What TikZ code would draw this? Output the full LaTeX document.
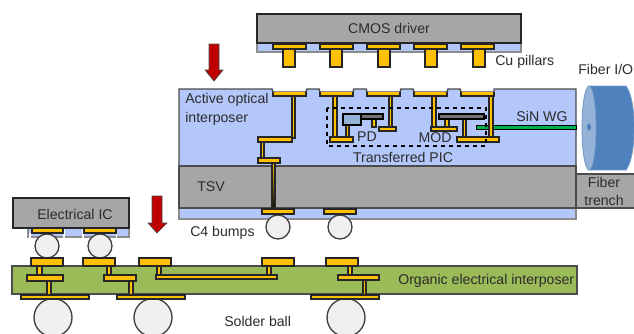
\documentclass[tikz,border=0pt]{standalone}
\usepackage{fontspec}
\setmainfont{Liberation Sans}
\definecolor{padgold}{HTML}{FFC000}
\definecolor{layerblue}{HTML}{B4C7FA}
\definecolor{layergray}{HTML}{A6A6A6}
\definecolor{boardgreen}{HTML}{9BBB59}
\definecolor{arrowred}{HTML}{C00000}
\definecolor{fiberbody}{HTML}{4F81BD}
\definecolor{fiberend}{HTML}{95B3D7}
\definecolor{labelgray}{HTML}{2B2B2B}
\definecolor{wggreen}{HTML}{00B050}
\begin{document}
\begin{tikzpicture}[x=0.75pt, y=-0.75pt,
    pad/.style={draw=black!85, line width=1pt, fill=padgold},
    layer/.style={draw=black!70, line width=1.1pt},
    ball/.style={draw=black!75, line width=1pt, fill=black!6},
    redarrow/.style={draw=black!70, line width=0.5pt, fill=arrowred},
    txt/.style={text=labelgray, font=\fontsize{10.6}{12.6}\selectfont, inner sep=0pt, align=center}]
    \clip (0, 0) rectangle (634, 333);

    % CMOS driver
    \draw[layer, draw=black!45, fill=layerblue] (257, 43) rectangle (521, 52);
    \draw[layer, draw=black!85, fill=layergray] (257, 14) rectangle (521, 43);
    \node[txt] (cmos) at (389, 28) {CMOS driver};
    \foreach \px/\qx in {273/283, 320/330, 367/378, 414/425, 461/473} {
        \draw[pad] (\px, 44) rectangle ++(33, 5);
        \draw[pad] (\qx, 49) rectangle ++(12, 18);
    }
    \node[txt, anchor=west] (pillars) at (495, 62) {Cu pillars};

    % 有源光转接板
    \draw[layer, fill=layerblue] (179, 166) -- (179, 89) -- (272, 89) -- (273, 92) -- (306, 92) -- (307, 89)
        -- (319, 89) -- (320, 92) -- (353, 92) -- (354, 89)
        -- (366, 89) -- (367, 92) -- (400, 92) -- (401, 89)
        -- (413, 89) -- (414, 92) -- (447, 92) -- (448, 89)
        -- (460, 89) -- (461, 92) -- (494, 92) -- (494, 89) -- (576, 89) -- (576, 166) -- cycle;
    \draw[layer, draw=black!45, fill=layerblue] (179, 208) rectangle (576, 219);
    \draw[layer, fill=layergray] (179, 166) rectangle (576, 208);
    \draw[layer, fill=layergray] (576, 174) rectangle (640, 208);
    \foreach \px in {273, 320, 367, 414, 461} {
        \fill[padgold] (\px, 92) rectangle ++(33, 4);
        \draw[line width=1pt, draw=black!85] (\px, 92) -- ++(0, 4) -- ++(33, 0) -- ++(0, -4);
    }

    % 波导
    \draw[draw=black, line width=0.5pt, fill=wggreen] (476, 125) rectangle (576, 129);

    % 左侧互连和TSV
    \draw[pad] (292, 96) rectangle (295, 138);
    \draw[pad] (258, 137) rectangle (292, 142);
    \draw[pad] (261, 142) rectangle (264, 158);
    \draw[pad] (258, 158) rectangle (280, 163);
    \draw[draw=black!85, line width=0.8pt, top color=padgold, bottom color=black] (272, 163) rectangle (275, 208);

    % PD
    \draw[pad] (333, 96) rectangle (337, 137);
    \draw[pad] (330, 137) rectangle (353, 142);
    \draw[pad] (389, 96) rectangle (392, 127);
    \draw[pad] (379, 127) rectangle (396, 131);
    \draw[pad] (346, 125) rectangle (349, 137);
    \draw[pad] (372, 119) rectangle (376, 127);
    \draw[draw=black, line width=0.8pt, fill=black!55] (361, 114) rectangle (383, 119);
    \draw[draw=black, line width=0.8pt, fill=fiberend] (343, 114) rectangle (361, 125);
    \node[txt] (pd) at (367, 137) {PD};

    % MOD
    \draw[pad] (432, 96) rectangle (436, 127);
    \draw[pad] (431, 127) rectangle (457, 131);
    \draw[pad] (445, 119) rectangle (449, 127);
    \draw[pad] (463, 119) rectangle (466, 137);
    \draw[pad] (457, 137) rectangle (499, 142);
    \draw[pad] (489, 96) rectangle (493, 137);
    \draw[draw=black, line width=0.8pt, fill=black!55] (439, 114) rectangle (484, 119);
    \node[txt] (mod) at (435, 138) {MOD};

    % 虚线框
    \draw[dashed, line width=0.8pt] (327, 108) rectangle (486, 146);
    \node[txt] (pic) at (403, 157) {Transferred PIC};
    \node[txt, anchor=west] (active) at (185, 109) {\parbox{80pt}{\raggedright Active optical\\[1.5pt]interposer}};
    \node[txt] (wg) at (542, 116) {SiN WG};
    \node[txt] (tsv) at (211, 187) {TSV};
    \node[txt] (trench) at (604, 191.5) {Fiber\\[0.5pt]trench};

    % C4凸点
    \foreach \cx in {278, 340} {
        \draw[ball] (\cx, 227) circle (12);
        \draw[pad] (\cx-16, 209) rectangle ++(32, 5);
    }
    \node[txt, anchor=west] (c4) at (190, 233) {C4 bumps};

    % 光纤
    \draw[draw=fiberbody!80, line width=0.6pt, fill=fiberbody] (589, 86) -- (626, 86) .. controls (637, 100) and (637, 156) .. (626, 170) -- (589, 170) -- cycle;
    \draw[draw=fiberbody!80, line width=0.6pt, fill=fiberend] (589, 128) ellipse (7 and 42);
    \fill[fiberbody] (589, 127) ellipse (2 and 3.5);
    \node[txt, anchor=east] (fiber) at (633.5, 69) {Fiber I/O};

    % 红色箭头
    \draw[redarrow] (209, 44) -- (219, 44) -- (219, 70) -- (223, 70) -- (214, 81) -- (205, 70) -- (209, 70) -- cycle;
    \draw[redarrow] (152, 196) -- (162, 196) -- (162, 223) -- (167, 223) -- (157, 233) -- (148, 223) -- (152, 223) -- cycle;

    % 电学芯片
    \draw[layer, draw=black!45, fill=layerblue] (28, 228) rectangle (129, 237);
    \fill[white] (28.5, 233) -- (31, 233) -- (31, 238) -- (28.5, 238) -- cycle;
    \fill[white] (63, 229) rectangle (65, 238);
    \fill[white] (116, 229) rectangle (117, 238);
    \fill[white] (82, 229) rectangle (84, 238);
    \draw[ball] (47, 246) circle (12);
    \draw[ball] (100, 246) circle (12);
    \draw[layer, draw=black!85, fill=layergray] (13, 198) rectangle (129, 228);
    \draw[pad] (32, 228) rectangle (63, 233);
    \draw[pad] (84, 228) rectangle (116, 233);
    \node[txt] (eic) at (75, 214) {Electrical IC};

    % 有机转接板
    \draw[layer, fill=boardgreen] (12, 266) rectangle (577, 294);
    \foreach \tx in {31, 83, 139, 262, 326} {
        \draw[pad] (\tx, 258) rectangle ++(32, 8);
    }
    \draw[pad] (37, 266) rectangle (42, 275);
    \draw[pad] (27, 275) rectangle (63, 281);
    \draw[pad] (47, 281) rectangle (51, 295);
    \draw[pad] (107, 266) rectangle (111, 275);
    \draw[pad] (104, 275) rectangle (136, 281);
    \draw[pad] (129, 281) rectangle (133, 295);
    \draw[pad] (157, 266) rectangle (161, 275);
    \draw[pad] (267, 266) rectangle (271, 275);
    \draw[pad] (156, 275) rectangle (277, 279);
    \draw[pad] (348, 266) rectangle (352, 275);
    \draw[pad] (338, 275) rectangle (379, 280);
    \draw[pad] (363, 280) rectangle (366, 295);
    \node[txt, anchor=west] (organic) at (398, 281) {Organic electrical interposer};

    % 焊球
    \foreach \bx/\cx/\wx in {21/53/68, 117/153/68, 311/346/68} {
        \draw[ball] (\cx, 317.5) circle (19);
        \draw[pad] (\bx, 295) rectangle ++(\wx, 4);
    }
    \node[txt, anchor=west] (solder) at (224, 321) {Solder ball};
\end{tikzpicture}
\end{document}
